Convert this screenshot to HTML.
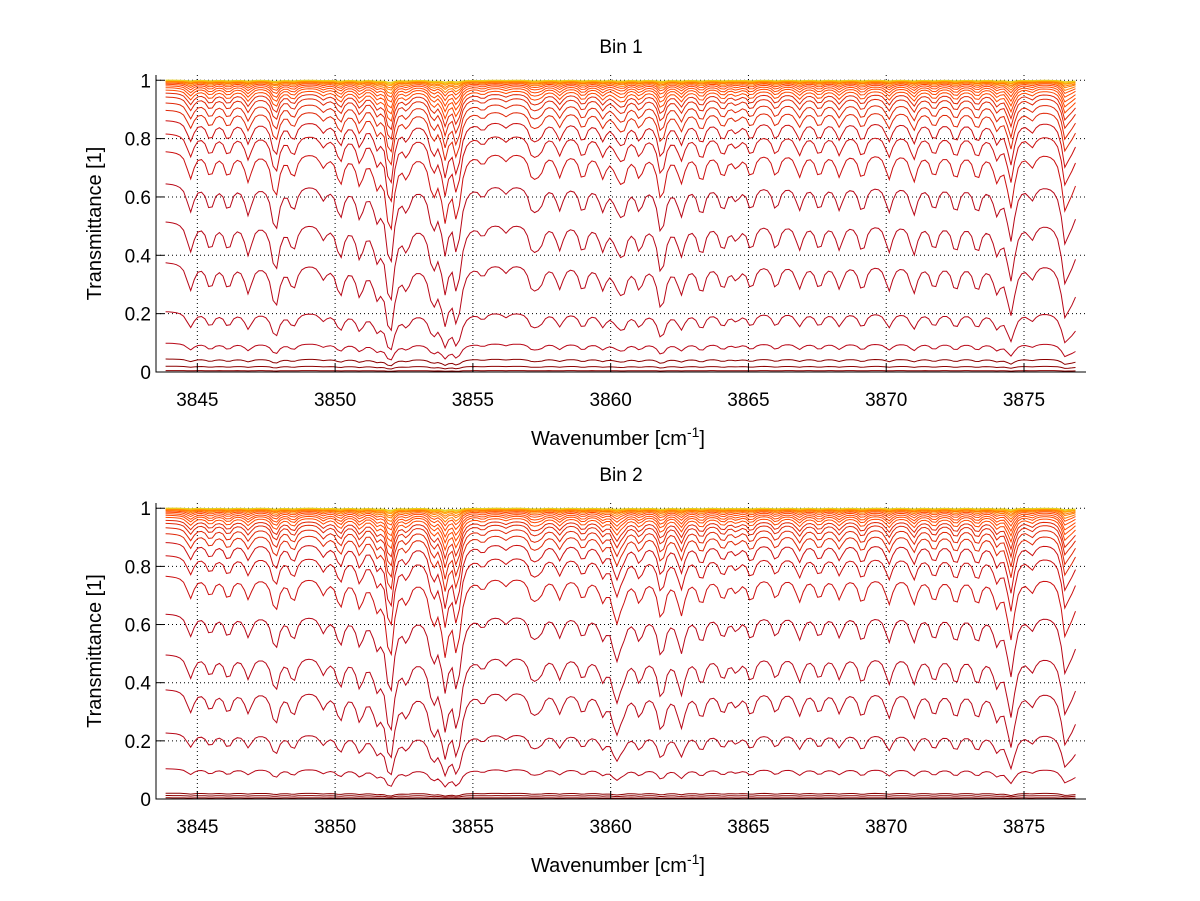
<!DOCTYPE html>
<html><head><meta charset="utf-8">
<style>
html,body{margin:0;padding:0;background:#fff;}
svg{display:block;font-family:"Liberation Sans",sans-serif;}
</style></head>
<body>
<svg id="chart" width="1200" height="901" viewBox="0 0 1200 901"></svg>
<script>
// ---- data ----
const lineCenters = [3844.75,3845.47,3846.12,3846.85,3847.83,3848.48,3849.57,3850.18,3850.9,3851.52,3851.99,3852.6,3853.55,3853.99,3854.42,3855.36,3856.2,3857.17,3857.43,3858.15,3858.99,3859.71,3860.2,3860.43,3861.05,3861.84,3862.56,3863.29,3864.07,3864.56,3865.1,3866.0,3866.85,3867.57,3868.3,3869.13,3870.1,3871.0,3871.74,3872.52,3873.3,3874.02,3874.52,3875.29,3876.51,3876.8];
const bin1Strengths = [1.0,0.9,0.9,1.1,1.8,0.9,0.5,1.2,1.2,1.1,3.5,0.8,1.5,2.6,2.6,0.4,0.3,0.9,0.7,0.9,1.0,0.9,0.5,1.1,0.9,1.9,1.1,1.1,0.9,0.5,0.9,0.9,0.9,0.9,0.9,1.0,1.0,1.1,0.9,1.0,1.0,1.0,2.2,0.5,2.3,1.2];
const bin2Strengths = [0.8,0.7,0.8,0.8,1.3,0.9,0.6,1.1,1.1,1.0,3.5,0.8,1.6,3.0,3.0,0.4,0.3,0.8,0.6,0.8,0.8,0.8,1.6,0.6,0.9,1.6,1.4,1.0,0.8,0.5,0.9,0.8,0.9,0.8,0.8,1.0,1.0,1.0,0.9,1.0,1.0,1.0,2.5,0.5,2.3,1.2];
const bin1Baselines = [0.005,0.02,0.045,0.10,0.21,0.38,0.52,0.65,0.76,0.82,0.865,0.90,0.925,0.945,0.958,0.968,0.976,0.982,0.987,0.991,0.994,0.996,0.997,0.998,0.999,1.0,1.0];
const bin1Scales    = [0.2,0.2,0.22,0.26,0.3,0.29,0.22,0.16,0.13,0.1,0.085,0.07,0.06,0.05,0.042,0.035,0.029,0.024,0.019,0.015,0.012,0.009,0.007,0.005,0.004,0.003,0.002];
const bin2Baselines = [0.004,0.012,0.02,0.105,0.23,0.38,0.50,0.64,0.77,0.84,0.885,0.915,0.935,0.95,0.96,0.97,0.977,0.982,0.987,0.991,0.994,0.996,0.997,0.998,0.999,1.0,1.0];
const bin2Scales    = [0.2,0.2,0.2,0.26,0.3,0.29,0.22,0.16,0.13,0.1,0.085,0.07,0.06,0.05,0.042,0.035,0.029,0.024,0.019,0.015,0.012,0.009,0.007,0.005,0.004,0.003,0.002];
const xTicks = [3845,3850,3855,3860,3865,3870,3875];
const yTicks = [0,0.2,0.4,0.6,0.8,1];
const yTickLabels = ["0","0.2","0.4","0.6","0.8","1"];

const svg = document.getElementById('chart');
const NS = 'http://www.w3.org/2000/svg';
function mk(tag, attrs, parent){
  const e = document.createElementNS(NS, tag);
  for (const k in attrs) e.setAttribute(k, attrs[k]);
  (parent||svg).appendChild(e); return e;
}
const xMin = 3843.5, xMax = 3877.25, yMin = 0, yMax = 1.018;
const L = 156, R = 1086;
function colorFor(i, n){
  const t = i/(n-1);
  if (t < 0.1) return '#8c0000';
  if (t < 0.3) return '#b80818';
  if (t < 0.42) return '#cc1010';
  if (t < 0.55) return '#e02808';
  if (t < 0.75) return '#ff4800';
  if (t < 0.88) return '#ff7a00';
  if (t < 0.96) return '#ffa000';
  return '#e8d020';
}
function panel(id, top, bottom, title, strengths, baselines, scales){
  const g = mk('g', {}, svg);
  
  
  const xs = v => L + (v - xMin)/(xMax - xMin)*(R - L);
  const ys = v => bottom - (v - yMin)/(yMax - yMin)*(bottom - top);
  xTicks.forEach(v => {
    const gl = mk('line', {x1:xs(v), x2:xs(v), y1:top, y2:bottom, stroke:'#000', 'stroke-width':1, 'stroke-dasharray':'1,3'}, g);
    
    
  });
  yTicks.forEach(v => {
    if (v === 0) return;
    const gl = mk('line', {x1:L, x2:R, y1:ys(v), y2:ys(v), stroke:'#000', 'stroke-width':1, 'stroke-dasharray':'1,3'}, g);
    
    
  });
  const n = baselines.length;
  for (let k = 0; k < n; k++){
    let d = '';
    for (let x = 3843.85; x <= 3876.95; x += 0.13){
      let tau = 0;
      for (let j = 0; j < lineCenters.length; j++){
        const u = (x - lineCenters[j]) / 0.15;
        tau += strengths[j] / (1 + u*u);
      }
      const T = baselines[k] * Math.exp(-scales[k] * tau);
      d += (d ? 'L' : 'M') + xs(x).toFixed(1) + ',' + ys(T).toFixed(1);
    }
    const p = mk('path', {d:d, fill:'none', stroke:colorFor(k, n), 'stroke-width':1}, g);
    
    
  }
  const ax = mk('path', {d:`M${L},${top}V${bottom}H${R}`, fill:'none', stroke:'#000', 'stroke-width':1}, g);
  
  
  xTicks.forEach(v => {
    mk('line', {x1:xs(v), x2:xs(v), y1:bottom, y2:bottom-8, stroke:'#000'}, g);
    const t = mk('text', {x:xs(v), y:bottom+34, 'text-anchor':'middle', 'font-size':19}, g);
    t.textContent = v;
    
    
  });
  yTicks.forEach((v, i) => {
    mk('line', {x1:L, x2:L+8, y1:ys(v), y2:ys(v), stroke:'#000'}, g);
    const t = mk('text', {x:L-5, y:ys(v)+7, 'text-anchor':'end', 'font-size':19}, g);
    t.textContent = yTickLabels[i];
    
    
  });
  const tt = mk('text', {x:621, y:top-22, 'text-anchor':'middle', 'font-size':19}, g);
  tt.textContent = title;
  
  
  const xl = mk('text', {x:618, y:bottom+73, 'text-anchor':'middle', 'font-size':20}, g);
  xl.innerHTML = 'Wavenumber [cm<tspan dy="-8" font-size="14">-1</tspan><tspan dy="8">]</tspan>';
  
  
  const yc = (top + bottom)/2;
  const yl = mk('text', {x:101, y:yc, 'text-anchor':'middle', 'font-size':20, transform:`rotate(-90 101 ${yc})`}, g);
  yl.textContent = 'Transmittance [1]';
  
  
}
panel('bin-1-panel', 75, 372, 'Bin 1', bin1Strengths, bin1Baselines, bin1Scales);
panel('bin-2-panel', 503, 799, 'Bin 2', bin2Strengths, bin2Baselines, bin2Scales);
</script>
</body></html>
